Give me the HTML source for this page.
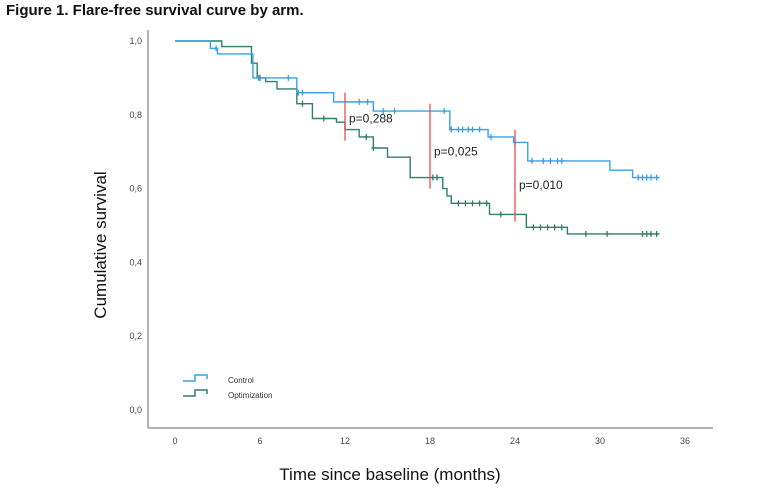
<!DOCTYPE html>
<html><head><meta charset="utf-8"><style>
body{margin:0;background:#fff;width:763px;height:493px;overflow:hidden;font-family:"Liberation Sans",sans-serif}
</style></head><body>
<svg width="763" height="493" xmlns="http://www.w3.org/2000/svg">
<text x="6" y="15" font-size="15" font-weight="bold" fill="#111">Figure 1. Flare-free survival curve by arm.</text>
<line x1="148" y1="30" x2="148" y2="428" stroke="#999" stroke-width="1.5"/>
<line x1="148" y1="428" x2="713" y2="428" stroke="#999" stroke-width="1.5"/>
<g id="yt" font-size="9" fill="#444" text-anchor="end"></g>
<g id="xt" font-size="9" fill="#444" text-anchor="middle"></g>
<text transform="translate(106,245) rotate(-90)" text-anchor="middle" font-size="17" fill="#111">Cumulative survival</text>
<text x="390" y="480" text-anchor="middle" font-size="17" fill="#111">Time since baseline (months)</text>
<g id="series"></g>
<g id="pv" font-size="12" fill="#222"></g>
<g>
<path d="M183 381 H195 V375 H207 V379" fill="none" stroke="#3aa0e8" stroke-width="1.5"/>
<text x="228" y="383" font-size="8" fill="#333">Control</text>
<path d="M183 396 H195 V390 H207 V394" fill="none" stroke="#2f7f6a" stroke-width="1.5"/>
<text x="228" y="398" font-size="8" fill="#333">Optimization</text>
</g>
</svg>
<script>
const yTicks=[0,0.2,0.4,0.6,0.8,1.0];
const yTickLabels=["0,0","0,2","0,4","0,6","0,8","1,0"];
const xTicks=[0,6,12,18,24,30,36];
const controlT=[0,2.5,3,5.5,8.6,11.2,14,19.4,22.1,23.9,24.9,30.7,32.3,34.2];
const controlS=[1,0.98,0.965,0.9,0.86,0.835,0.81,0.76,0.74,0.725,0.675,0.65,0.63,0.63];
const optT=[0,3.3,5.4,5.8,6.4,7.2,8.6,9.7,11.4,12,13,14,15,16.6,18.9,19.2,19.5,22.2,24.8,27.7,34.2];
const optS=[1,0.985,0.94,0.9,0.89,0.87,0.83,0.79,0.78,0.76,0.74,0.71,0.685,0.63,0.6,0.58,0.56,0.53,0.495,0.477,0.477];
const controlCens=[2.9,5.9,8,8.7,9,13,13.6,14.7,15.5,19,19.5,20,20.3,20.7,21,21.5,22.3,24,25.2,26,26.5,27,27.3,32.7,33,33.3,33.6,34];
const optCens=[6,9,10.5,13.5,14,18.2,18.5,20,20.5,21,21.5,22,23,25.3,25.8,26.3,26.8,27.3,29,30.5,33,33.3,33.6,34];
const pTimes=[12,18,24];
const pTop=[0.86,0.83,0.76];
const pBot=[0.73,0.6,0.51];
const pLabelS=[0.79,0.70,0.61];
const pLabels=["p=0,288","p=0,025","p=0,010"];
const X=t=>175+t*(510/36), Y=s=>410-s*369;
const NS="http://www.w3.org/2000/svg";
function mk(tag,attrs,parent){const e=document.createElementNS(NS,tag);for(const k in attrs)e.setAttribute(k,attrs[k]);parent.appendChild(e);return e;}
const yt=document.getElementById('yt');
yTicks.forEach((v,i)=>{const t=mk('text',{x:142,y:Y(v)+3},yt);t.textContent=yTickLabels[i];

});
const xt=document.getElementById('xt');
xTicks.forEach(v=>{const t=mk('text',{x:X(v),y:444},xt);t.textContent=String(v);

});
function stepVal(T,S,t){let s=S[0];for(let i=0;i<T.length;i++){if(T[i]<=t)s=S[i];}return s;}
const ser=document.getElementById('series');
function draw(T,S,C,color,name){
 let d='M'+X(T[0])+' '+Y(S[0]);
 for(let i=1;i<T.length;i++){d+=' H'+X(T[i])+' V'+Y(S[i]);}
 const p=mk('path',{d:d,fill:'none',stroke:color,'stroke-width':1.4},ser);
 
 
 C.forEach(t=>{const x=X(t),y=Y(stepVal(T,S,t));
  const c=mk('path',{d:`M${x} ${y-3}V${y+3}M${x-2} ${y}H${x+2}`,stroke:color,'stroke-width':1.3},ser);
  
  });
}
draw(optT,optS,optCens,'#2f7f6a','optimization');
draw(controlT,controlS,controlCens,'#3aa0e8','control');
const pv=document.getElementById('pv');
pTimes.forEach((t,i)=>{
 const l=mk('line',{x1:X(t),x2:X(t),y1:Y(pTop[i]),y2:Y(pBot[i]),stroke:'#e05050','stroke-width':1.3},pv);
 
 
 const tx=mk('text',{x:X(t)+4,y:Y(pLabelS[i])+4},pv);tx.textContent=pLabels[i];
 
 
});
</script>
</body></html>
